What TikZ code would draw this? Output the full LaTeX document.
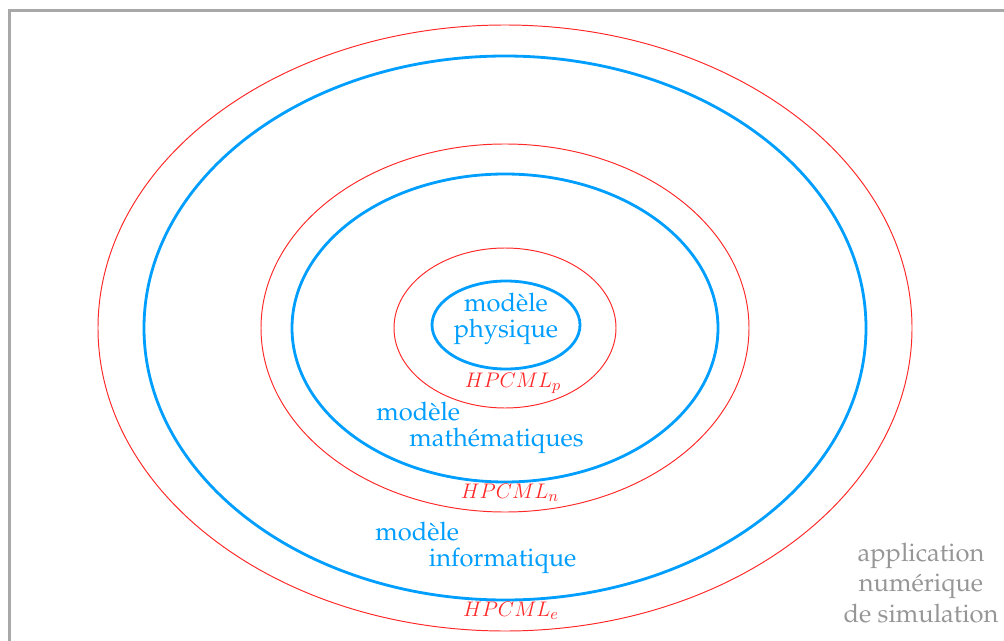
\documentclass[tikz,border=0pt]{standalone}
\usepackage[T1]{fontenc}
\usepackage{palatino}
\usepackage{tikz}
\usetikzlibrary{positioning}
\definecolor{myblue}{RGB}{0,158,255}
\definecolor{myred}{RGB}{255,40,40}
\definecolor{mygray}{RGB}{150,150,150}
\definecolor{frgray}{RGB}{168,168,168}
\tikzset{
  redring/.style={draw=myred, line width=0.55pt},
  bluering/.style={draw=myblue, line width=1.6pt},
  bluetext/.style={text=myblue, inner sep=0pt, align=left,
    font=\fontsize{14.5}{15}\selectfont},
  hpcml/.style={text=myred, inner sep=0pt, font=\fontsize{13.2}{15}\selectfont},
  apptext/.style={text=mygray, inner sep=0pt, align=center,
    font=\fontsize{14.5}{17.3}\selectfont}
}

\begin{document}
\begin{tikzpicture}[x=0.02cm, y=0.02cm]
  \clip (0,0) rectangle (1004,640);
  \draw[frgray, line width=1.2pt] (9.5,629.5) rectangle (1020,-20);
  \coordinate (c) at (505,312);
  \coordinate (cp) at (506,315);
  % levels: red hull, blue model
  \foreach \rx/\ry in {407/303, 244/184, 111/80}
    \draw[redring] (c) ellipse [x radius=\rx, y radius=\ry];
  \foreach \rx/\ry in {361/272, 213/154}
    \draw[bluering] (c) ellipse [x radius=\rx, y radius=\ry];
  \draw[bluering] (cp) ellipse [x radius=74, y radius=44];
  \node[bluetext, align=center] (phys) at (506,321) {mod\`ele\\physique};
  \node[bluetext, anchor=west] (math) at (376,212) {mod\`ele\\\hspace*{1.3em}math\'ematiques};
  \node[bluetext, anchor=west] (info) at (375,92) {mod\`ele\\\hspace*{2.1em}informatique};
  \node[hpcml] (hp) at (513,257) {$HPCML_p$};
  \node[hpcml] (hn) at (510,147) {$HPCML_n$};
  \node[hpcml] (he) at (511,29) {$HPCML_e$};
  \node[apptext] (app) at (921,57) {application\\num\'erique\\de simulation};
\end{tikzpicture}
\end{document}
